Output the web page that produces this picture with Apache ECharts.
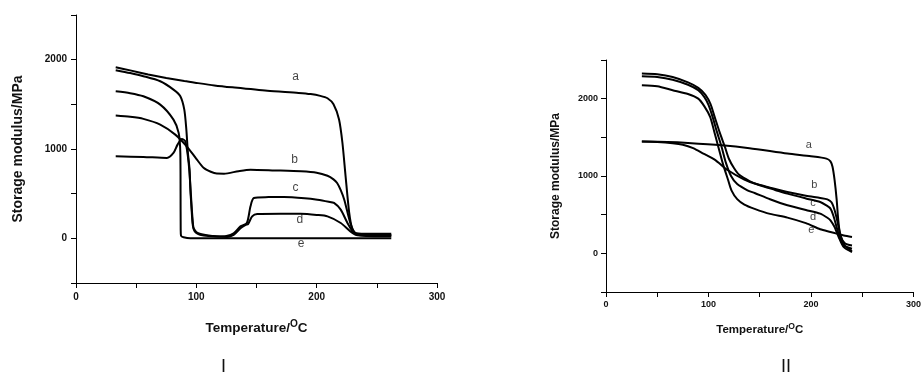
<!DOCTYPE html>
<html>
<head>
<meta charset="utf-8">
<script src="https://cdn.jsdelivr.net/npm/echarts@6/dist/echarts.min.js"></script>
<style>
  html, body { margin: 0; padding: 0; background: #fff; }
  #main { width: 924px; height: 374px; }
</style>
</head>
<body>
<div id="main"></div>
<script>
// 图 I 曲线 [温度, 储能模量]
var aI = [[33,1915],[45,1880],[60,1835],[75,1795],[90,1760],[100,1740],[115,1712],[130,1690],[159,1652],[185,1628],[195,1615],[203,1595],[209,1568],[214,1500],[218.6,1330],[221.4,1070],[224,700],[227,290],[229.7,100],[234,45],[245,40],[262,36]];
var bI = [[33,1374],[45,1360],[56,1337],[70,1273],[82.5,1161],[92,1030],[100,890],[106,790],[112,745],[117,725],[123,724],[135,752],[145,768],[165,760],[187,750],[200,735],[209,700],[214,660],[217,620],[220,540],[223,430],[228,170],[232,60],[240,50],[262,50]];
var cI = [[33,1882],[45,1850],[56,1815],[70,1758],[81,1665],[86.7,1590],[90,1440],[91.7,1217],[93,956],[94.4,769],[95.2,500],[96.5,280],[97.8,100],[100,60],[103,41],[110,25],[117,20],[125,25],[131,55],[136.7,134],[142,172],[145,358],[147.8,452],[160,462],[172.8,464],[190,450],[200.6,433],[210,410],[214.4,396],[220,321],[225.6,172],[231,60],[236.6,34],[262,32]];
var dI = [[33,918],[56,911],[75.6,900],[81,956],[84.4,1049],[88,1113],[90.8,1086],[93.6,844],[95.6,470],[97.2,134],[101,60],[114,25],[125.6,16],[131,37],[136.7,112],[141,150],[143,160],[146.4,246],[150.6,273],[170,276],[186.7,275],[200,262],[209,246],[220,172],[228,78],[234,34],[262,22]];
var eI = [[33,1646],[45,1625],[56,1590],[70,1497],[81,1329],[85.3,1180],[86.7,956],[86.9,500],[87,100],[87.3,30],[89.4,12],[95,0],[262,0]];

// 图 II 曲线
var aII = [[35,1445],[60,1440],[80,1428],[113,1398],[140,1360],[177,1290],[200,1255],[215,1225],[219,1190],[221,1120],[223,950],[225,700],[226.6,430],[228,280],[230,180],[233,100],[240,30]];
var bII = [[35,1445],[50,1440],[65,1425],[75,1405],[85,1360],[95,1290],[106,1212],[119,1074],[135,953],[145,902],[160,850],[177,793],[195,745],[209,716],[216,698],[220,660],[223,560],[226,400],[229,220],[233,130],[240,100]];
var cII = [[35,2325],[50,2315],[65,2280],[80,2210],[90,2140],[97,2050],[102,1930],[106,1764],[111,1560],[116,1376],[120,1220],[125,1100],[130,1015],[140,935],[150,880],[165,820],[177,772],[195,710],[209,664],[215,620],[219,578],[222,480],[225,340],[228,200],[232,100],[240,60]];
var dII = [[35,2290],[50,2280],[65,2245],[80,2180],[90,2110],[96,2020],[100,1920],[104,1764],[108,1580],[112.8,1376],[117,1170],[122,1000],[128,895],[138,815],[145,780],[160,700],[177,621],[195,560],[209,513],[216,460],[219,427],[223,340],[225,276],[228,180],[232,80],[240,15]];
var eII = [[35,2174],[50,2160],[65,2110],[80,2060],[90,2000],[96,1900],[101.6,1764],[105.5,1580],[109.6,1376],[114,1160],[119.2,945],[122.4,815],[128,700],[135,630],[145,575],[160,510],[177,462],[195,390],[209,311],[219,276],[225,255],[232,230],[240,211]];

// 曲线标注位置
var names = ['a', 'b', 'c', 'd', 'e'];
var labelPosI = [[182.5,1807],[181.7,881],[182.5,564],[186,209],[187,-60]];
var labelPosII = [[197.8,1406],[203.2,880],[202,656],[202,470],[200.3,298]];

var xTicks = [0, 100, 200, 300];
var yTicks = [0, 1000, 2000];

var chart = echarts.init(document.getElementById('main'));

function xAxisOf(grid, fs, lfs, gap, margin) {
    return {
        gridIndex: grid,
        type: 'value',
        min: 0, max: 300, interval: 50,
        name: '{t|Temperature/}{s|O}{t|C}',
        nameLocation: 'middle',
        nameGap: gap,
        nameTextStyle: {
            rich: {
                t: { fontSize: fs, fontWeight: 'bold', color: '#111', fontFamily: 'Liberation Sans' },
                s: { fontSize: fs * 0.75, fontWeight: 'bold', color: '#111', fontFamily: 'Liberation Sans', padding: [0, 0, fs * 0.6, 0] }
            }
        },
        axisLine: { show: true, onZero: false, lineStyle: { color: '#000', width: 1 } },
        axisTick: { show: true, inside: false, length: 5, lineStyle: { color: '#000' } },
        splitLine: { show: false },
        axisLabel: {
            fontSize: lfs, fontWeight: 'bold', color: '#111', fontFamily: 'Liberation Sans', margin: margin,
            formatter: function(v) { return xTicks.indexOf(v) >= 0 ? String(v) : ''; }
        }
    };
}

function yAxisOf(grid, fs, lfs, gap, margin) {
    return {
        gridIndex: grid,
        type: 'value',
        min: -500, max: 2500, interval: 500,
        name: 'Storage modulus/MPa',
        nameLocation: 'middle',
        nameGap: gap,
        nameTextStyle: { fontSize: fs, fontWeight: 'bold', color: '#111', fontFamily: 'Liberation Sans' },
        axisLine: { show: true, onZero: false, lineStyle: { color: '#000', width: 1 } },
        axisTick: { show: true, inside: false, length: 5, lineStyle: { color: '#000' } },
        splitLine: { show: false },
        axisLabel: {
            fontSize: lfs, fontWeight: 'bold', color: '#111', fontFamily: 'Liberation Sans', margin: margin,
            formatter: function(v) { return yTicks.indexOf(v) >= 0 ? String(v) : ''; }
        }
    };
}

function curve(data, idx) {
    return {
        type: 'line',
        xAxisIndex: idx, yAxisIndex: idx,
        data: data,
        showSymbol: false,
        smooth: 0.25,
        lineStyle: { color: '#000', width: 2 },
        silent: true
    };
}

function labels(pos, idx, fs) {
    return {
        type: 'scatter',
        xAxisIndex: idx, yAxisIndex: idx,
        symbolSize: 0,
        data: pos.map(function(p, i) { return { value: p, name: names[i] }; }),
        label: {
            show: true, position: 'inside',
            formatter: '{b}',
            fontSize: fs, color: '#111', fontFamily: 'Liberation Sans'
        },
        silent: true
    };
}

var option = {
    backgroundColor: '#fff',
    animation: false,
    grid: [
        { left: 76, top: 15, width: 361, height: 268 },
        { left: 606, top: 60, width: 312, height: 232 }
    ],
    xAxis: [xAxisOf(0, 13.5, 10, 36, 9), xAxisOf(1, 11.5, 9, 30, 8)],
    yAxis: [yAxisOf(0, 14, 10, 51, 9), yAxisOf(1, 12, 9, 44, 8)],
    series: [
        curve(aI, 0), curve(bI, 0), curve(cI, 0), curve(dI, 0), curve(eI, 0),
        curve(aII, 1), curve(bII, 1), curve(cII, 1), curve(dII, 1), curve(eII, 1),
        labels(labelPosI, 0, 12), labels(labelPosII, 1, 11)
    ],
    graphic: [
        { type: 'text', left: 221, top: 358, style: { text: 'I', fontSize: 18, fill: '#111', fontFamily: 'Liberation Sans' } },
        { type: 'text', left: 781, top: 358, style: { text: 'II', fontSize: 18, fill: '#111', fontFamily: 'Liberation Sans' } }
    ]
};

chart.setOption(option);
</script>
</body>
</html>
